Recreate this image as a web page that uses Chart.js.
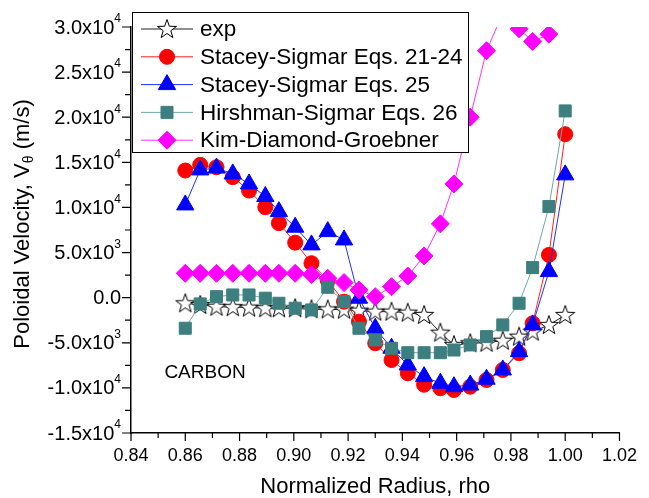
<!DOCTYPE html>
<html>
<head>
<meta charset="utf-8">
<script src="https://cdn.jsdelivr.net/npm/chart.js@4.4.1/dist/chart.umd.min.js"></script>
<style>
  html, body { margin: 0; padding: 0; background: #fff; }
  #wrap { width: 649px; height: 498px; }
</style>
</head>
<body>
<div id="wrap"><canvas id="grafico" width="649" height="498"></canvas></div>
<script>
// radio normalizado (eje x común a todas las series)
const rho = [0.860, 0.8655, 0.8715, 0.8775, 0.8835, 0.8895, 0.8945, 0.9005, 0.9065, 0.9125,
             0.9185, 0.924, 0.930, 0.936, 0.942, 0.948, 0.954, 0.959, 0.965, 0.971,
             0.977, 0.983, 0.988, 0.994, 1.000];

const expV = [-620, -800, -1000, -1050, -1100, -1170, -1170, -1170, -1290, -1300,
              -1330, -1440, -1550, -1550, -1660, -1920, -3880, -5250, -5050, -4990,
              -4770, -4320, -3770, -3030, -1920];
const staceyV = [14090, 14720, 14460, 13360, 11870, 10030, 8260, 6100, 3820, 1900,
                 -440, -2660, -5050, -6910, -8380, -9650, -10040, -10230, -9870, -9120,
                 -8010, -6160, -2840, 4740, 18120];
const stacey25V = [10280, 14160, 14360, 13720, 12610, 11210, 9540, 7810, 5850, 7320,
                   6400, -60, -3390, -5600, -7460, -8750, -9490, -9870, -9680, -9040,
                   -8010, -5980, -3020, 2890, 13610];
const hirshmanV = [-3390, -690, 110, 300, 300, -60, -620, -1170, -1360, 1150,
                   -440, -3390, -4690, -5610, -6100, -6100, -6100, -5800, -5240, -4320,
                   -3020, -620, 3330, 10100, 20700];
const kimV = [2700, 2700, 2700, 2700, 2700, 2700, 2700, 2700, 2550, 2150,
              1670, 860, 110, 1220, 2400, 4630, 8180, 12610, 20010, 27370,
              31500, 29800, 28400, 29200];

const nombres = ['exp', 'Stacey-Sigmar Eqs. 21-24', 'Stacey-Sigmar Eqs. 25',
                 'Hirshman-Sigmar Eqs. 26', 'Kim-Diamond-Groebner'];

const xTicks = [0.84, 0.86, 0.88, 0.90, 0.92, 0.94, 0.96, 0.98, 1.00, 1.02];
const yTicks = [-15000, -10000, -5000, 0, 5000, 10000, 15000, 20000, 25000, 30000];
const yTickLabels = [['-1.5x10', '4'], ['-1.0x10', '4'], ['-5.0x10', '3'], ['0.0', ''],
                     ['5.0x10', '3'], ['1.0x10', '4'], ['1.5x10', '4'], ['2.0x10', '4'],
                     ['2.5x10', '4'], ['3.0x10', '4']];

const FUENTE = "'Liberation Sans', Arial, sans-serif";

// estrella de 5 puntas blanca con borde negro
function crearEstrella() {
  const c = document.createElement('canvas');
  c.width = 24; c.height = 24;
  const g = c.getContext('2d');
  g.beginPath();
  for (let i = 0; i < 10; i++) {
    const r = i % 2 ? 4 : 10;
    const a = -Math.PI / 2 + i * Math.PI / 5;
    g.lineTo(12 + r * Math.cos(a), 12.5 + r * Math.sin(a));
  }
  g.closePath();
  g.fillStyle = '#fff';
  g.fill();
  g.strokeStyle = '#000';
  g.lineWidth = 1;
  g.stroke();
  return c;
}
const estrella = crearEstrella();

const pares = vals => vals.map((v, i) => ({ x: rho[i], y: v }));
const medios = arr => arr.slice(1).map((v, i) => (v + arr[i]) / 2);

const series = [
  { label: nombres[0], data: pares(expV), borderColor: '#222', pointStyle: estrella,
    pointRadius: 10, pointBackgroundColor: '#fff', pointBorderColor: '#000', order: 5 },
  { label: nombres[1], data: pares(staceyV), borderColor: '#ff2020', pointStyle: 'circle',
    pointRadius: 7.5, pointBackgroundColor: '#ff0000', pointBorderColor: '#ff0000', order: 4 },
  { label: nombres[2], data: pares(stacey25V), borderColor: '#2030ff', pointStyle: 'triangle',
    pointRadius: 10, pointBackgroundColor: '#0000ff', pointBorderColor: '#0000ff', order: 3 },
  { label: nombres[3], data: pares(hirshmanV), borderColor: '#6fa8a8', pointStyle: 'rect',
    pointRadius: 8.5, pointBackgroundColor: '#3d7f7f', pointBorderColor: '#3d7f7f', order: 1 },
  { label: nombres[4], data: pares(kimV), borderColor: '#ff30ff', pointStyle: 'rectRot',
    pointRadius: 9, pointBackgroundColor: '#ff00ff', pointBorderColor: '#ff00ff', order: 2 },
].map(s => ({ ...s, borderWidth: 1, pointBorderWidth: 1, tension: 0, fill: false }));

// ticks, etiquetas con superíndice, título Y, leyenda y texto CARBON
const extras = {
  id: 'extras',
  afterDraw(chart) {
    const { ctx, chartArea: a, scales: { x, y } } = chart;
    ctx.save();
    ctx.strokeStyle = '#000';
    ctx.lineWidth = 1.2;
    ctx.beginPath();
    xTicks.forEach(v => { const p = x.getPixelForValue(v); ctx.moveTo(p, a.bottom); ctx.lineTo(p, a.bottom + 8); });
    medios(xTicks).forEach(v => { const p = x.getPixelForValue(v); ctx.moveTo(p, a.bottom); ctx.lineTo(p, a.bottom + 5); });
    yTicks.forEach(v => { const p = y.getPixelForValue(v); ctx.moveTo(a.left, p); ctx.lineTo(a.left - 9, p); });
    medios(yTicks).forEach(v => { const p = y.getPixelForValue(v); ctx.moveTo(a.left, p); ctx.lineTo(a.left - 6, p); });
    ctx.stroke();

    // etiquetas del eje Y
    ctx.fillStyle = '#000';
    ctx.textBaseline = 'middle';
    yTicks.forEach((v, i) => {
      const [base, sup] = yTickLabels[i];
      const p = y.getPixelForValue(v);
      let right = a.left - 10;
      if (sup) {
        ctx.font = `12px ${FUENTE}`;
        ctx.textAlign = 'right';
        ctx.fillText(sup, right, p - 8);
        right -= ctx.measureText(sup).width;
      }
      ctx.font = `20px ${FUENTE}`;
      ctx.textAlign = 'right';
      ctx.fillText(base, right, p + 1);
    });

    // título eje Y con subíndice
    ctx.save();
    ctx.translate(23, (a.top + a.bottom) / 2 - 6);
    ctx.rotate(-Math.PI / 2);
    const t1 = 'Poloidal Velocity, V', t2 = '\u03b8', t3 = ' (m/s)';
    ctx.font = `22px ${FUENTE}`;
    const w1 = ctx.measureText(t1).width, w3 = ctx.measureText(t3).width;
    ctx.font = `14px ${FUENTE}`;
    const w2 = ctx.measureText(t2).width;
    let sx = -(w1 + w2 + w3) / 2;
    ctx.textAlign = 'left';
    ctx.font = `22px ${FUENTE}`;
    ctx.fillText(t1, sx, 0);
    sx += w1;
    ctx.font = `14px ${FUENTE}`;
    ctx.fillText(t2, sx, 6);
    sx += w2;
    ctx.font = `22px ${FUENTE}`;
    ctx.fillText(t3, sx, 0);
    ctx.restore();

    // CARBON
    ctx.font = `19px ${FUENTE}`;
    ctx.textAlign = 'left';
    ctx.fillText('CARBON', x.getPixelForValue(0.8523), y.getPixelForValue(-8350));

    // leyenda
    const bx = 132, by = 12, bw = 336, bh = 140;
    ctx.fillStyle = '#fff';
    ctx.fillRect(bx, by, bw, bh);
    ctx.strokeStyle = '#000';
    ctx.lineWidth = 1;
    ctx.strokeRect(bx + 0.5, by + 0.5, bw, bh);
    chart.data.datasets.forEach((ds, i) => {
      const ry = by + 17 + i * 27.8;
      ctx.strokeStyle = ds.borderColor;
      ctx.lineWidth = 1;
      ctx.beginPath();
      ctx.moveTo(bx + 9, ry);
      ctx.lineTo(bx + 61, ry);
      ctx.stroke();
      ctx.fillStyle = ds.pointBackgroundColor;
      ctx.strokeStyle = ds.pointBorderColor;
      Chart.helpers.drawPoint(ctx, { pointStyle: ds.pointStyle, radius: ds.pointRadius, borderWidth: 1, rotation: 0 }, bx + 35, ry);
      ctx.fillStyle = '#000';
      ctx.font = `22.5px ${FUENTE}`;
      ctx.textAlign = 'left';
      ctx.textBaseline = 'middle';
      ctx.fillText(ds.label, bx + 68, ry + 1);
    });
    ctx.restore();
  }
};

new Chart(document.getElementById('grafico'), {
  type: 'line',
  data: { datasets: series },
  plugins: [extras],
  options: {
    responsive: false,
    devicePixelRatio: 1,
    animation: false,
    events: [],
    layout: { padding: { top: 27, right: 20, left: 0, bottom: 0 } },
    plugins: { legend: { display: false }, tooltip: { enabled: false } },
    scales: {
      x: {
        type: 'linear', min: 0.84, max: 1.02,
        afterBuildTicks: s => { s.ticks = xTicks.map(v => ({ value: v })); },
        afterFit: s => { s.height = 65; },
        ticks: { callback: v => v.toFixed(2), color: '#000', font: { family: FUENTE, size: 18 }, padding: 12, maxRotation: 0, autoSkip: false },
        grid: { display: false, drawTicks: false },
        border: { display: true, color: '#000', width: 1.5 },
        title: { display: true, text: 'Normalized Radius, rho', color: '#000', font: { family: FUENTE, size: 22 }, padding: { top: 9, bottom: -2 } },
      },
      y: {
        type: 'linear', min: -15000, max: 30000,
        afterBuildTicks: s => { s.ticks = yTicks.map(v => ({ value: v })); },
        afterFit: s => { s.width = 131; },
        ticks: { callback: () => '', autoSkip: false },
        grid: { display: false, drawTicks: false },
        border: { display: true, color: '#000', width: 1.5 },
      },
    },
  },
});
</script>
</body>
</html>
